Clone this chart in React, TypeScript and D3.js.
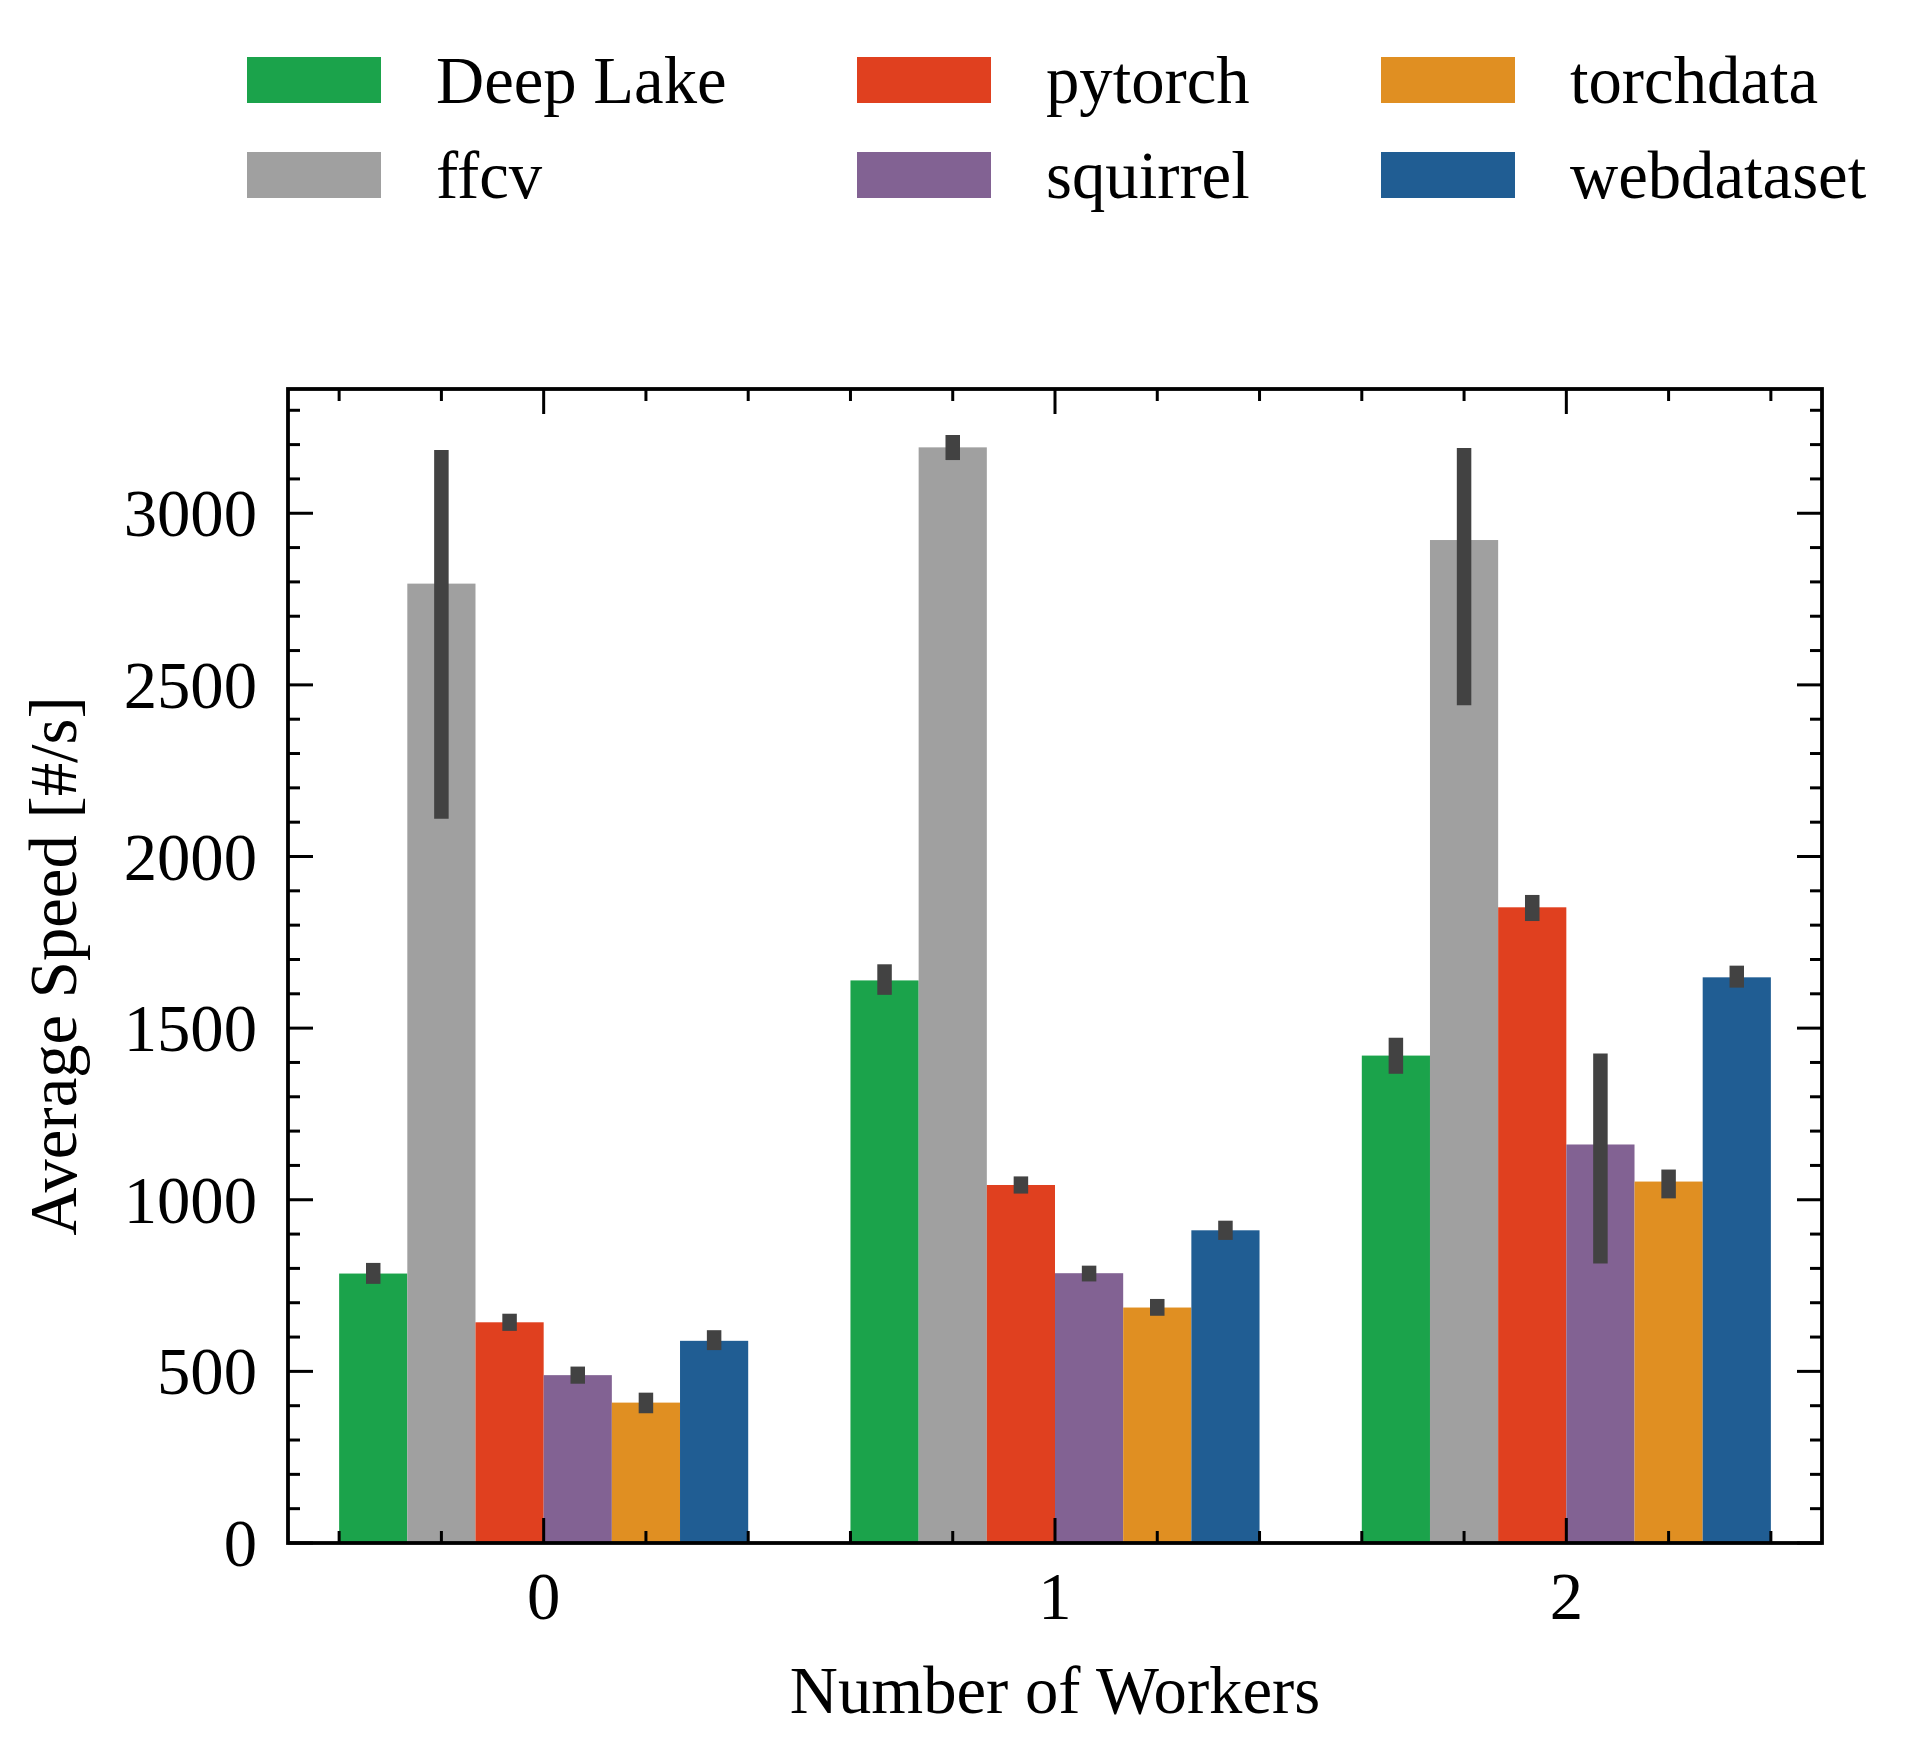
import React, { useEffect, useRef } from 'react';
import * as d3 from 'd3';

const workers = [0, 1, 2];
const libraries = ['Deep Lake', 'ffcv', 'pytorch', 'squirrel', 'torchdata', 'webdataset'];
const colors = ['#1ba34b', '#a0a0a0', '#e0401f', '#826293', '#e08f22', '#205d93'];

// mean speed per library, one value per worker count
const deepLake = [785, 1639, 1420];
const ffcv = [2795, 3192, 2922];
const pytorch = [643, 1043, 1852];
const squirrel = [489, 786, 1161];
const torchdata = [409, 686, 1053];
const webdataset = [589, 911, 1648];

// error bar extents [low, high]
const deepLakeErr = [[755, 816], [1597, 1686], [1367, 1472]];
const ffcvErr = [[2110, 3184], [3155, 3228], [2441, 3190]];
const pytorchErr = [[618, 668], [1018, 1068], [1812, 1888]];
const squirrelErr = [[464, 514], [762, 808], [814, 1426]];
const torchdataErr = [[378, 438], [662, 711], [1004, 1088]];
const webdatasetErr = [[562, 620], [883, 939], [1618, 1682]];

const yTicks = [0, 500, 1000, 1500, 2000, 2500, 3000];

const seriesValues = [deepLake, ffcv, pytorch, squirrel, torchdata, webdataset];
const seriesErr = [deepLakeErr, ffcvErr, pytorchErr, squirrelErr, torchdataErr, webdatasetErr];

export default function App() {
  const svgRef = useRef<SVGSVGElement>(null);

  useEffect(() => {
    if (!svgRef.current) return;
    const svg = d3.select(svgRef.current);
    svg.selectAll('*').remove();

    const font = "'Liberation Serif', 'Times New Roman', serif";
    const fs = 66.7;
    const left = 288, right = 1822, top = 389, bottom = 1543;

    const x = d3.scaleLinear().domain([-0.5, 2.5]).range([left, right]);
    const y = d3.scaleLinear().domain([0, 3362]).range([bottom, top]);
    const inner = d3.scaleBand<string>().domain(libraries).range([-0.4, 0.4]);
    const bw = x(inner.bandwidth()) - x(0);

    const rows = workers.flatMap((w, i) =>
      libraries.map((lib, j) => ({
        w, j, lib,
        v: seriesValues[j][i],
        lo: seriesErr[j][i][0],
        hi: seriesErr[j][i][1],
      }))
    );

    const g = svg.append('g');

    g.selectAll('rect.bar')
      .data(rows)
      .join('rect')
      .attr('class', 'bar')
      .attr('x', d => x(d.w + inner(d.lib)!))
      .attr('width', bw)
      .attr('y', d => y(d.v))
      .attr('height', d => y(0) - y(d.v))
      .attr('fill', d => colors[d.j]);

    g.selectAll('line.err')
      .data(rows)
      .join('line')
      .attr('class', 'err')
      .attr('x1', d => x(d.w + inner(d.lib)!) + bw / 2)
      .attr('x2', d => x(d.w + inner(d.lib)!) + bw / 2)
      .attr('y1', d => y(d.lo))
      .attr('y2', d => y(d.hi))
      .attr('stroke', '#424242')
      .attr('stroke-width', 14.5);

    // ticks, inward on all four sides
    const ticks = svg.append('g').attr('stroke', '#000').attr('stroke-width', 3);
    const yMinor = d3.range(0, 3400, 100).filter(v => v % 500 !== 0);
    const xMinor = d3.range(-0.4, 2.41, 0.2).map(v => Math.round(v * 10) / 10).filter(v => Math.abs(v - Math.round(v)) > 0.01);

    yTicks.forEach(v => {
      ticks.append('line').attr('x1', left).attr('x2', left + 25).attr('y1', y(v)).attr('y2', y(v));
      ticks.append('line').attr('x1', right).attr('x2', right - 25).attr('y1', y(v)).attr('y2', y(v));
    });
    yMinor.forEach(v => {
      ticks.append('line').attr('x1', left).attr('x2', left + 12).attr('y1', y(v)).attr('y2', y(v));
      ticks.append('line').attr('x1', right).attr('x2', right - 12).attr('y1', y(v)).attr('y2', y(v));
    });
    workers.forEach(v => {
      ticks.append('line').attr('x1', x(v)).attr('x2', x(v)).attr('y1', bottom).attr('y2', bottom - 25);
      ticks.append('line').attr('x1', x(v)).attr('x2', x(v)).attr('y1', top).attr('y2', top + 25);
    });
    xMinor.forEach(v => {
      ticks.append('line').attr('x1', x(v)).attr('x2', x(v)).attr('y1', bottom).attr('y2', bottom - 12);
      ticks.append('line').attr('x1', x(v)).attr('x2', x(v)).attr('y1', top).attr('y2', top + 12);
    });

    svg.append('rect')
      .attr('x', left).attr('y', top)
      .attr('width', right - left).attr('height', bottom - top)
      .attr('fill', 'none').attr('stroke', '#000').attr('stroke-width', 3.8);

    const text = svg.append('g').attr('font-family', font).attr('font-size', fs).attr('fill', '#000');

    text.selectAll('text.ytick')
      .data(yTicks)
      .join('text')
      .attr('class', 'ytick')
      .attr('x', left - 31)
      .attr('y', d => y(d) + 23)
      .attr('text-anchor', 'end')
      .text(d => String(d));

    text.selectAll('text.xtick')
      .data(workers)
      .join('text')
      .attr('class', 'xtick')
      .attr('x', d => x(d))
      .attr('y', 1619)
      .attr('text-anchor', 'middle')
      .text(d => String(d));

    text.append('text')
      .attr('x', (left + right) / 2)
      .attr('y', 1713)
      .attr('text-anchor', 'middle')
      .text('Number of Workers');

    text.append('text')
      .attr('transform', `translate(76,${(top + bottom) / 2}) rotate(-90)`)
      .attr('text-anchor', 'middle')
      .text('Average Speed [#/s]');

    // legend: 3 columns, 2 rows, filled column by column
    const colX = [247, 857, 1381];
    const rowY = [57, 152];
    libraries.forEach((lib, j) => {
      const cx = colX[Math.floor(j / 2)];
      const ry = rowY[j % 2];
      svg.append('rect')
        .attr('x', cx).attr('y', ry)
        .attr('width', 134).attr('height', 46)
        .attr('fill', colors[j]);
      text.append('text')
        .attr('x', cx + 134 + 55)
        .attr('y', ry + 46)
        .text(lib);
    });
  }, []);

  return (
    <svg
      ref={svgRef}
      width={1919}
      height={1759}
      style={{ position: 'absolute', left: 0, top: 0, background: '#fff' }}
    />
  );
}
